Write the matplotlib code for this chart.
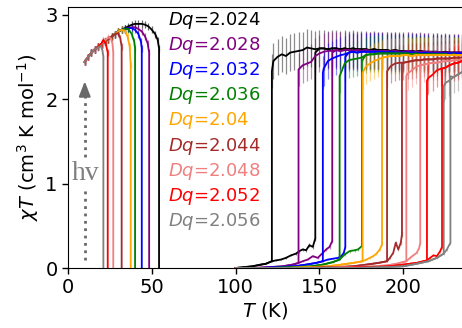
import numpy as np
import matplotlib
matplotlib.use("Agg")
import matplotlib.pyplot as plt

plt.rcParams['font.family'] = ['DejaVu Sans']
plt.rcParams['mathtext.fontset'] = 'dejavusans'

COLORS = ['black', 'purple', 'blue', 'green', 'orange', 'brown', 'lightcoral', 'red', 'gray']
DQ_LABELS = ['2.024', '2.028', '2.032', '2.036', '2.04', '2.044', '2.048', '2.052', '2.056']

# ---------------- low temperature (photo-induced) curves ----------------
low_T_black = [10, 12, 14, 16, 18, 20, 22, 24, 26, 28, 30, 32, 34, 36, 38, 40, 42, 44, 46, 48, 50, 52, 53.5, 54.3, 54.3]
low_X_black = [2.44, 2.50, 2.55, 2.59, 2.62, 2.65, 2.68, 2.71, 2.74, 2.77, 2.80, 2.82, 2.84, 2.86, 2.88, 2.89, 2.89, 2.89, 2.88, 2.86, 2.82, 2.77, 2.70, 2.60, 0.0]
low_T_purple = [10, 12, 14, 16, 18, 20, 22, 24, 26, 28, 30, 32, 34, 36, 38, 40, 42, 44, 46, 47.5, 48.4, 48.4]
low_X_purple = [2.44, 2.50, 2.55, 2.59, 2.62, 2.65, 2.68, 2.71, 2.74, 2.77, 2.80, 2.82, 2.83, 2.84, 2.85, 2.85, 2.83, 2.80, 2.74, 2.66, 2.55, 0.0]
low_T_blue = [10, 12, 14, 16, 18, 20, 22, 24, 26, 28, 30, 32, 34, 36, 38, 40, 42, 43.5, 44, 44]
low_X_blue = [2.44, 2.50, 2.55, 2.59, 2.62, 2.65, 2.68, 2.71, 2.74, 2.77, 2.80, 2.82, 2.83, 2.84, 2.84, 2.82, 2.77, 2.68, 2.60, 0.0]
low_T_green = [10, 12, 14, 16, 18, 20, 22, 24, 26, 28, 30, 32, 34, 36, 38, 39.5, 40, 40]
low_X_green = [2.44, 2.50, 2.55, 2.59, 2.62, 2.65, 2.68, 2.71, 2.74, 2.77, 2.80, 2.82, 2.83, 2.83, 2.77, 2.68, 2.60, 0.0]
low_T_orange = [10, 12, 14, 16, 18, 20, 22, 24, 26, 28, 30, 32, 34, 35.5, 36.8, 37.4, 37.4]
low_X_orange = [2.44, 2.50, 2.55, 2.59, 2.62, 2.65, 2.68, 2.71, 2.74, 2.77, 2.80, 2.82, 2.81, 2.74, 2.62, 2.40, 0.0]
low_T_brown = [10, 12, 14, 16, 18, 20, 22, 24, 26, 28, 30, 31.2, 32, 32]
low_X_brown = [2.44, 2.50, 2.55, 2.59, 2.62, 2.65, 2.68, 2.71, 2.74, 2.77, 2.78, 2.72, 2.62, 0.0]
low_T_pink = [10, 12, 14, 16, 18, 20, 22, 24, 25.5, 26.5, 27, 27]
low_X_pink = [2.44, 2.50, 2.55, 2.59, 2.62, 2.65, 2.69, 2.73, 2.72, 2.66, 2.55, 0.0]
low_T_red = [10, 12, 14, 16, 18, 20, 21, 22.5, 23.7, 23.7]
low_X_red = [2.44, 2.50, 2.55, 2.59, 2.62, 2.66, 2.70, 2.66, 2.55, 0.0]
low_T_gray = [10, 12, 14, 16, 18, 19.5, 20.5, 21.1, 21.1]
low_X_gray = [2.44, 2.50, 2.55, 2.59, 2.61, 2.63, 2.58, 2.50, 0.0]

LOW_T = [low_T_black, low_T_purple, low_T_blue, low_T_green, low_T_orange,
         low_T_brown, low_T_pink, low_T_red, low_T_gray]
LOW_X = [low_X_black, low_X_purple, low_X_blue, low_X_green, low_X_orange,
         low_X_brown, low_X_pink, low_X_red, low_X_gray]

# ---------------- thermal hysteresis loops ----------------
T_DOWN = [121.6, 137.5, 152.0, 162.0, 175.7, 190.3, 201.8, 214.1, 224.1]
T_UP = [147.5, 157.6, 165.4, 175.3, 187.3, 199.2, 210.1, 223.1, 228.1]
UP_START = [122.5, 140.0, 152.5, 165.0, 177.5, 192.5, 202.5, 215.0, 225.0]
GRID_STEP = 2.5

# high-spin (upper) state: value at T_DOWN, then on the grid from UP_START
hs_black = [2.33,
            2.45, 2.50, 2.53, 2.51, 2.55, 2.56, 2.57, 2.58, 2.61, 2.60,
            2.59, 2.60, 2.60, 2.59, 2.60, 2.60, 2.59, 2.60, 2.59, 2.60,
            2.59, 2.59, 2.59, 2.58, 2.59, 2.58, 2.58, 2.58, 2.57, 2.58,
            2.57, 2.57, 2.57, 2.57, 2.56, 2.57, 2.56, 2.56, 2.56, 2.56,
            2.55, 2.56, 2.55, 2.55, 2.55, 2.55]
hs_purple = [2.35,
             2.40, 2.42, 2.44, 2.51, 2.54, 2.56, 2.57, 2.57, 2.58, 2.57,
             2.58, 2.58, 2.57, 2.58, 2.57, 2.58, 2.57, 2.57, 2.57, 2.57,
             2.57, 2.56, 2.57, 2.56, 2.56, 2.57, 2.56, 2.56, 2.56, 2.56,
             2.56, 2.55, 2.56, 2.55, 2.55, 2.55, 2.55, 2.55, 2.55]
hs_blue = [2.31,
           2.36, 2.45, 2.48, 2.50, 2.52, 2.53, 2.55, 2.56, 2.55, 2.56,
           2.56, 2.56, 2.56, 2.56, 2.56, 2.55, 2.56, 2.55, 2.55, 2.55,
           2.55, 2.55, 2.55, 2.54, 2.55, 2.54, 2.54, 2.54, 2.54, 2.54,
           2.54, 2.54, 2.54, 2.54]
hs_green = [2.27,
            2.42, 2.46, 2.47, 2.48, 2.49, 2.52, 2.53, 2.53, 2.54, 2.54,
            2.54, 2.54, 2.54, 2.54, 2.54, 2.54, 2.53, 2.54, 2.53, 2.53,
            2.53, 2.53, 2.53, 2.53, 2.53, 2.52, 2.53, 2.52, 2.52]
hs_orange = [2.31,
             2.38, 2.42, 2.45, 2.47, 2.49, 2.50, 2.51, 2.51, 2.51, 2.52,
             2.52, 2.51, 2.52, 2.52, 2.52, 2.52, 2.52, 2.52, 2.52, 2.52,
             2.52, 2.52, 2.52, 2.52]
hs_brown = [2.33,
            2.39, 2.42, 2.43, 2.43, 2.44, 2.45, 2.46, 2.46, 2.47, 2.47,
            2.47, 2.48, 2.48, 2.48, 2.48, 2.49, 2.49, 2.49]
hs_pink = [2.27, 2.30, 2.34, 2.38, 2.40, 2.41, 2.42, 2.43, 2.43, 2.44, 2.45, 2.45, 2.46, 2.46, 2.47]
hs_red = [2.22, 2.25, 2.29, 2.34, 2.36, 2.37, 2.40, 2.42, 2.43, 2.45]
hs_gray = [2.15, 2.19, 2.22, 2.26, 2.29, 2.32]
HS_X = [hs_black, hs_purple, hs_blue, hs_green, hs_orange, hs_brown, hs_pink, hs_red, hs_gray]

# low-spin (lower) state on heating; last entry = top of the jump at T_UP
ls_T_black = [100, 105, 110, 115, 118, 121.6, 124, 127, 130, 133, 136, 138, 140, 142, 144, 146, 147.5, 147.5]
ls_X_black = [0.0, 0.01, 0.02, 0.04, 0.05, 0.08, 0.09, 0.10, 0.12, 0.15, 0.17, 0.20, 0.22, 0.21, 0.27, 0.25, 0.35, 2.55]
ls_T_purple = [100, 110, 120, 128, 134, 137.5, 140, 143, 146, 149, 152, 154, 156, 157.6, 157.6]
ls_X_purple = [0.0, 0.0, 0.01, 0.02, 0.04, 0.06, 0.08, 0.10, 0.14, 0.12, 0.18, 0.22, 0.25, 0.32, 2.55]
ls_T_blue = [100, 115, 125, 135, 142, 148, 152, 155, 158, 161, 163, 164.5, 165.4, 165.4]
ls_X_blue = [0.0, 0.0, 0.01, 0.02, 0.04, 0.06, 0.08, 0.10, 0.11, 0.12, 0.14, 0.18, 0.25, 2.50]
ls_T_green = [100, 120, 135, 145, 152, 158, 162, 165, 168, 171, 173, 175.3, 175.3]
ls_X_green = [0.0, 0.0, 0.01, 0.02, 0.04, 0.07, 0.10, 0.16, 0.20, 0.21, 0.22, 0.26, 2.45]
ls_T_orange = [100, 130, 145, 155, 163, 170, 175.7, 178, 180, 182, 184, 186, 187.3, 187.3]
ls_X_orange = [0.0, 0.0, 0.01, 0.02, 0.04, 0.06, 0.08, 0.10, 0.12, 0.14, 0.17, 0.22, 0.28, 2.45]
ls_T_brown = [100, 140, 160, 170, 178, 185, 190.3, 192, 194, 195.5, 197, 198.5, 199.2, 199.2]
ls_X_brown = [0.0, 0.0, 0.01, 0.02, 0.04, 0.06, 0.08, 0.12, 0.18, 0.30, 0.22, 0.30, 0.40, 2.43]
ls_T_pink = [100, 150, 170, 182, 190, 196, 201.8, 204, 206, 208, 209.5, 210.1, 210.1]
ls_X_pink = [0.0, 0.0, 0.01, 0.02, 0.03, 0.05, 0.08, 0.12, 0.15, 0.18, 0.24, 0.30, 2.40]
ls_T_red = [100, 160, 180, 192, 200, 208, 214.1, 216, 218, 220, 222, 223.1, 223.1]
ls_X_red = [0.0, 0.0, 0.01, 0.02, 0.04, 0.06, 0.09, 0.12, 0.15, 0.14, 0.20, 0.25, 2.36]
ls_T_gray = [100, 170, 190, 200, 208, 215, 220, 224.1, 226, 228.1, 228.1]
ls_X_gray = [0.0, 0.0, 0.01, 0.02, 0.05, 0.08, 0.12, 0.17, 0.22, 0.30, 2.27]
LS_T = [ls_T_black, ls_T_purple, ls_T_blue, ls_T_green, ls_T_orange, ls_T_brown, ls_T_pink, ls_T_red, ls_T_gray]
LS_X = [ls_X_black, ls_X_purple, ls_X_blue, ls_X_green, ls_X_orange, ls_X_brown, ls_X_pink, ls_X_red, ls_X_gray]

REL_ERR_LOW = 0.015
REL_ERR_HIGH = 0.085

# annotation (photo-excitation arrow)
ARROW_T = 10
ARROW_Y0, ARROW_Y1 = 0.1, 2.21
HV_POS = (10.3, 1.12)

# ---------------- figure ----------------
fig = plt.figure(figsize=(4.62, 3.28), dpi=100)
ax = fig.add_axes([68 / 462, 60 / 328, 394 / 462, 261 / 328])

LW = 1.3
for i, c in enumerate(COLORS):
    T = np.asarray(LOW_T[i], float)
    X = np.asarray(LOW_X[i], float)
    ax.errorbar(T, X, yerr=REL_ERR_LOW * X, fmt='none', ecolor=c, elinewidth=0.9, alpha=0.6, zorder=1)

    td, tu = T_DOWN[i], T_UP[i]
    hsX = np.asarray(HS_X[i], float)
    hsT = np.r_[td, UP_START[i] + GRID_STEP * np.arange(len(hsX) - 1)]
    lsT = np.asarray(LS_T[i], float)
    lsX = np.asarray(LS_X[i], float)
    ax.errorbar(hsT, hsX, yerr=REL_ERR_HIGH * hsX, fmt='none', ecolor=c, elinewidth=0.9, alpha=0.45, zorder=1)
    ax.errorbar(lsT[:-1], lsX[:-1], yerr=REL_ERR_HIGH * lsX[:-1], fmt='none', ecolor=c, elinewidth=0.9, alpha=0.45, zorder=1)

for i, c in enumerate(COLORS):
    ax.plot(LOW_T[i], LOW_X[i], color=c, lw=LW, zorder=3)
    td, tu = T_DOWN[i], T_UP[i]
    hsX = np.asarray(HS_X[i], float)
    hsT = np.r_[td, UP_START[i] + GRID_STEP * np.arange(len(hsX) - 1)]
    lsT = np.asarray(LS_T[i], float)
    lsX = np.asarray(LS_X[i], float)
    # heating: low-spin branch then jump, then high-spin above T_UP
    mh = hsT > tu
    ax.plot(np.r_[lsT, hsT[mh]], np.r_[lsX, hsX[mh]], color=c, lw=LW, zorder=3)
    # cooling: high-spin branch down to T_DOWN, then low-spin below
    ml = (lsT <= td) & (np.arange(len(lsT)) < len(lsT) - 1)
    ax.plot(np.r_[hsT[::-1], lsT[ml][::-1]], np.r_[hsX[::-1], lsX[ml][::-1]], color=c, lw=LW, zorder=3)

# photo-excitation arrow
ax.plot([ARROW_T, ARROW_T], [ARROW_Y0, ARROW_Y1 - 0.12], ls=':', color='dimgray', lw=2, zorder=4)
ax.annotate('', xy=(ARROW_T, ARROW_Y1), xytext=(ARROW_T, ARROW_Y1 - 0.16),
            arrowprops=dict(arrowstyle='-|>,head_width=0.35,head_length=0.9', color='dimgray', lw=1.5,
                            shrinkA=0, shrinkB=0), zorder=4)
ax.text(HV_POS[0], HV_POS[1], 'hv', family=['Liberation Serif'], fontsize=20, color='gray',
        ha='center', va='center', zorder=5,
        bbox=dict(facecolor='white', edgecolor='none', pad=0.5))

# legend-like labels
for i, c in enumerate(COLORS):
    ax.text(0.254, 0.950 - i * 0.0966, r'$Dq$=' + DQ_LABELS[i], transform=ax.transAxes,
            color=c, fontsize=13, ha='left', va='center')

ax.set_xlim(0, 235)
ax.set_ylim(0, 3.09)
ax.set_xticks([0, 50, 100, 150, 200])
ax.set_yticks([0, 1, 2, 3])
ax.tick_params(labelsize=14, length=4, width=1)
ax.spines['right'].set_visible(False)
ax.set_xlabel(r'$T$ (K)', fontsize=14, labelpad=2)
ax.set_ylabel(r'$\chi T$ (cm$^3$ K mol$^{-1}$)', fontsize=14, labelpad=3)

fig.savefig('out.png', dpi=100)
